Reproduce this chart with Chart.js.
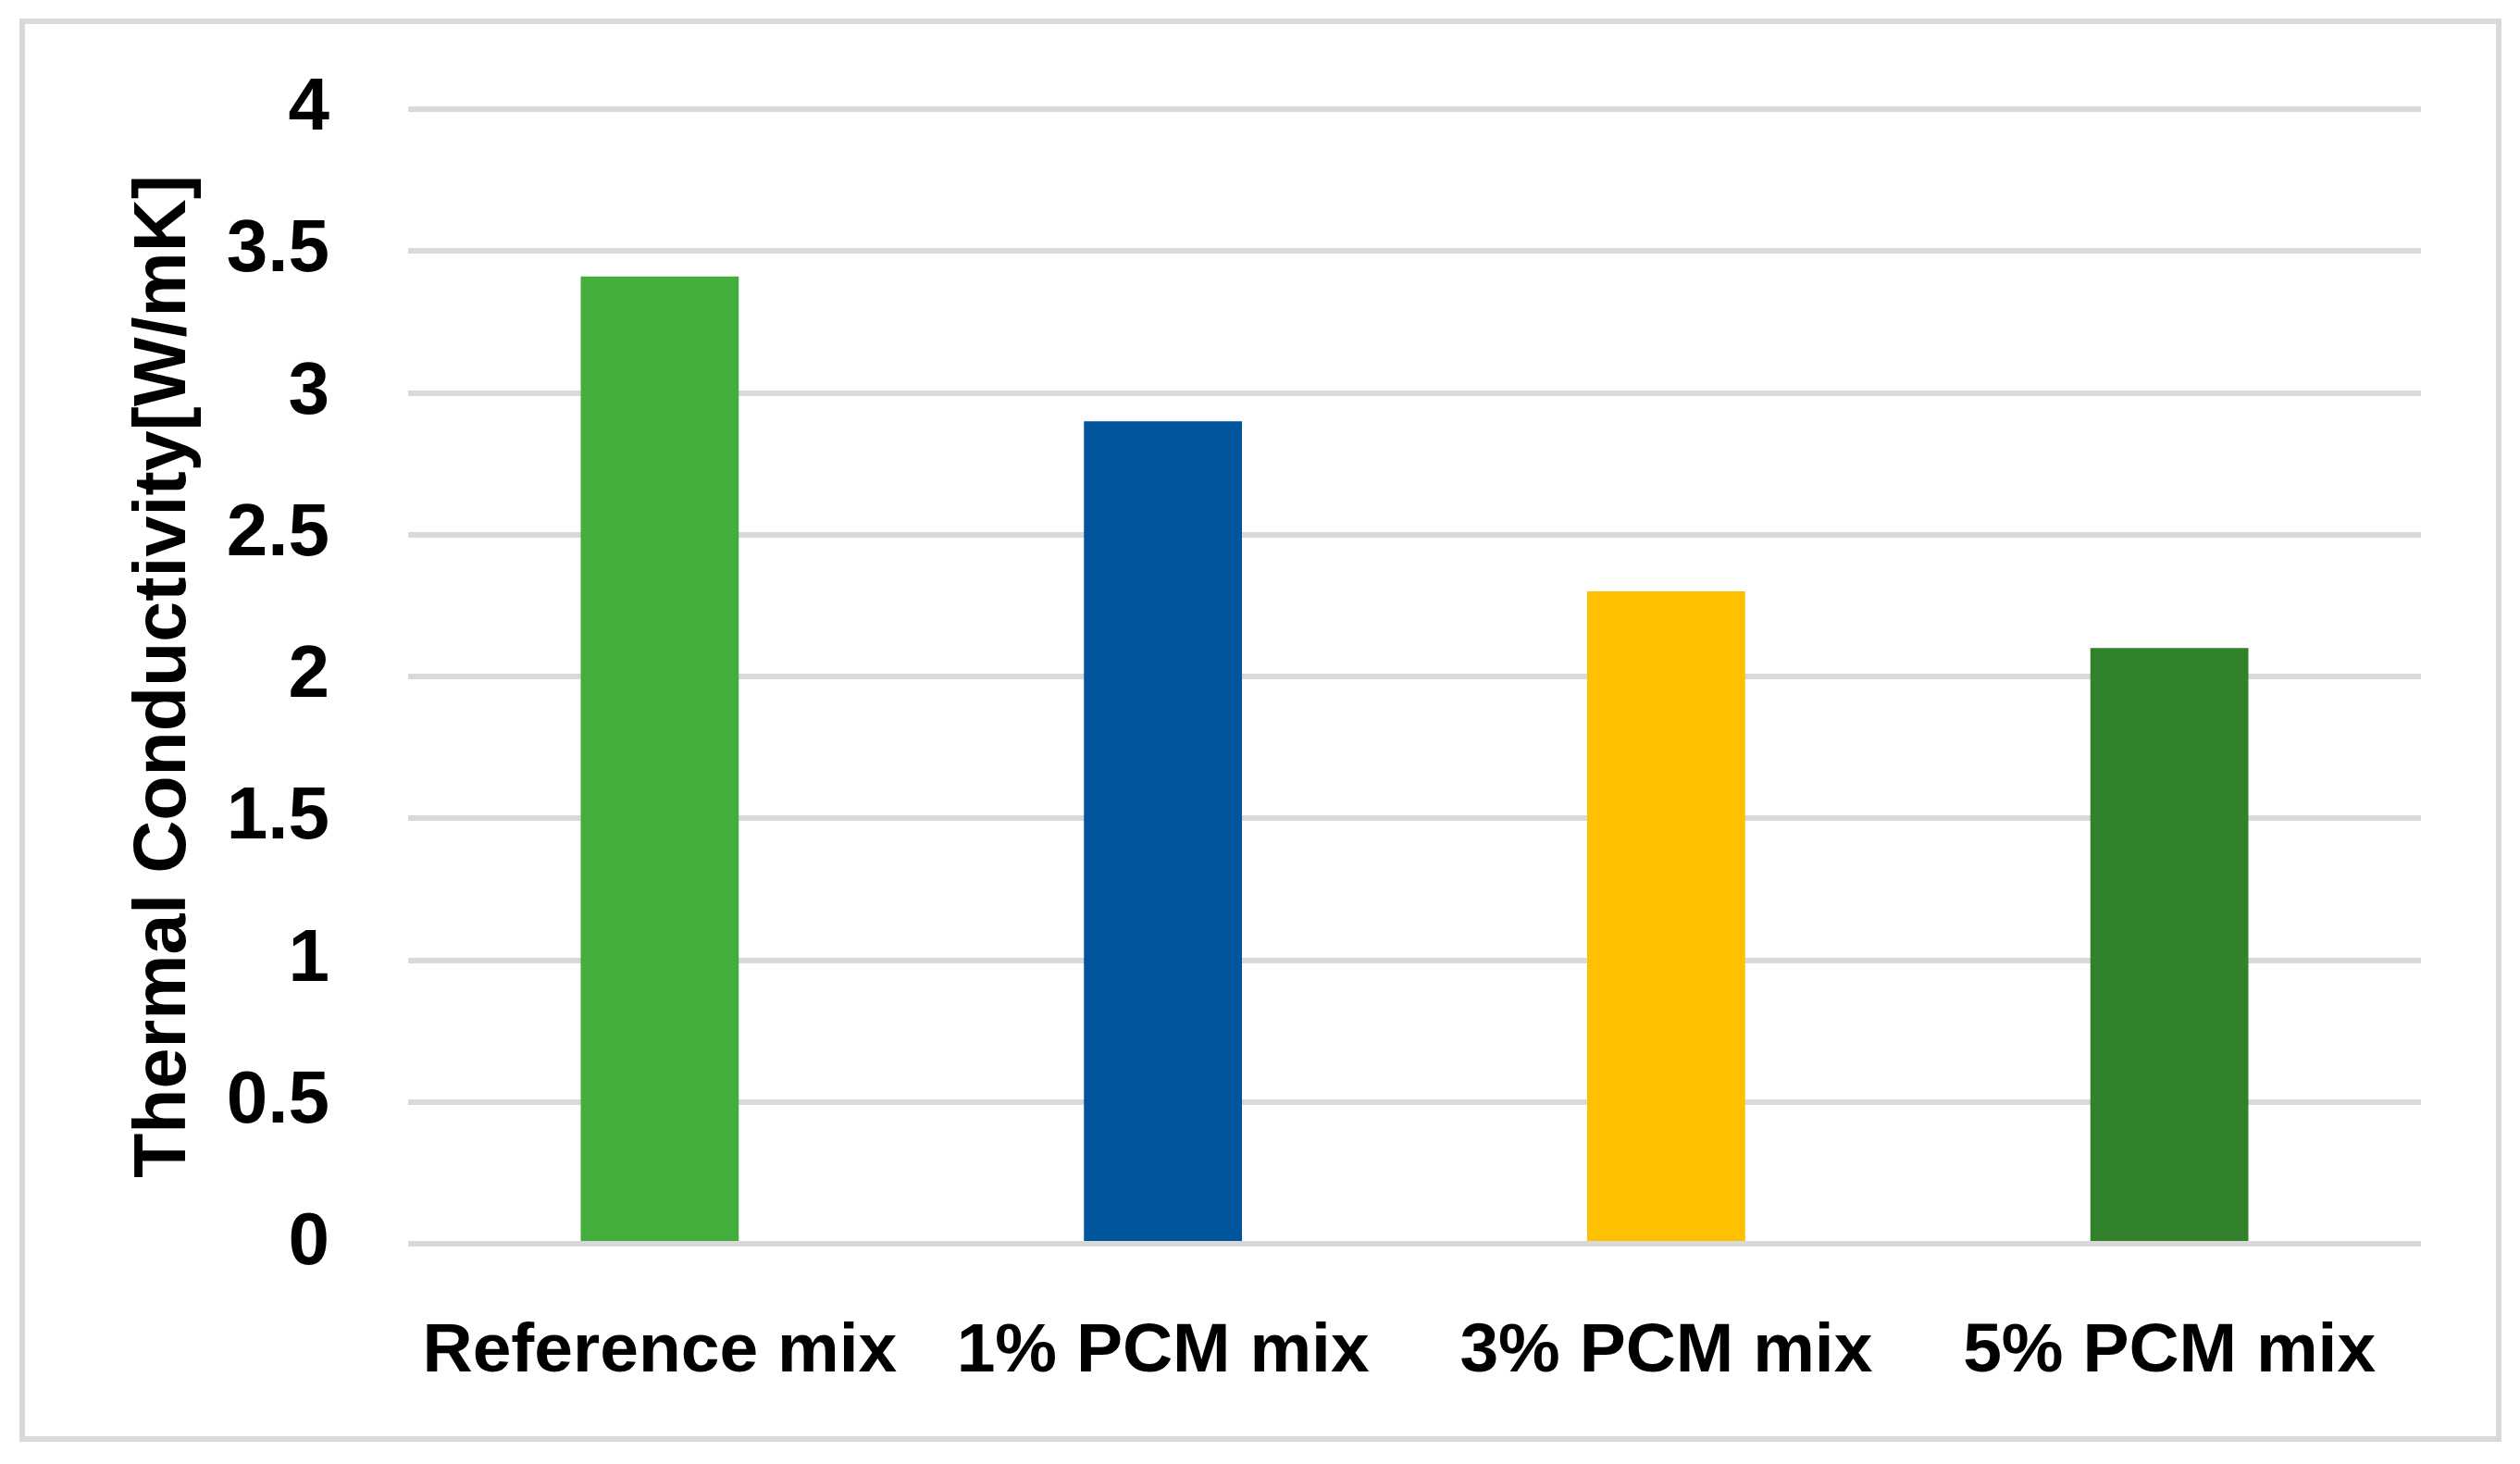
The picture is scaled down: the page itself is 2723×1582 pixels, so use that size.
<!DOCTYPE html>
<html>
<head>
<meta charset="utf-8">
<script src="https://cdn.jsdelivr.net/npm/chart.js@4"></script>
<style>
  html, body { margin: 0; padding: 0; background: #fff; }
  canvas { display: block; }
</style>
</head>
<body>
<canvas id="chart" width="2723" height="1582"></canvas>
<script>
// Data
const categories = ["Reference mix", "1% PCM mix", "3% PCM mix", "5% PCM mix"];
const conductivity = [3.41, 2.9, 2.3, 2.1];
const barColors = ["#44AE3C", "#01559C", "#FFC000", "#31822B"];
const yTicks = [0, 0.5, 1, 1.5, 2, 2.5, 3, 3.5, 4];

const FONT = "'Liberation Sans', Arial, sans-serif";

// White background + light grey frame
const framePlugin = {
  id: "frame",
  beforeDraw(chart) {
    const ctx = chart.ctx;
    ctx.save();
    ctx.fillStyle = "#ffffff";
    ctx.fillRect(0, 0, chart.width, chart.height);
    ctx.strokeStyle = "#d9d9d9";
    ctx.lineWidth = 6;
    ctx.strokeRect(24, 23, 2676, 1532);
    ctx.restore();
  },
};

new Chart(document.getElementById("chart"), {
  type: "bar",
  data: {
    labels: categories,
    datasets: [{
      data: conductivity,
      backgroundColor: barColors,
      borderWidth: 0,
      categoryPercentage: 1,
      barPercentage: 0.314,
    }],
  },
  options: {
    responsive: false,
    animation: false,
    layout: { padding: { left: 139, right: 107, top: 118, bottom: 0 } },
    plugins: { legend: { display: false }, tooltip: { enabled: false } },
    scales: {
      x: {
        grid: { display: false },
        border: { display: false },
        ticks: {
          color: "#000",
          padding: 64,
          maxRotation: 0,
          autoSkip: false,
          font: { family: FONT, size: 75, weight: "bold" },
        },
        afterFit: (scale) => {
          scale.height = 238;
          scale.paddingLeft = 0;
          scale.paddingRight = 0;
        },
      },
      y: {
        min: 0,
        max: 4,
        afterBuildTicks: (scale) => { scale.ticks = yTicks.map((v) => ({ value: v })); },
        grid: { color: "#d9d9d9", lineWidth: 6, drawTicks: false },
        border: { display: false },
        ticks: {
          color: "#000",
          padding: 85,
          font: { family: FONT, size: 80, weight: "bold" },
          callback: (v) => String(v),
        },
        title: {
          display: true,
          text: "Thermal Conductivity[W/mK]",
          color: "#000",
          padding: { top: 0, bottom: 0 },
          font: { family: FONT, size: 79, weight: "bold", lineHeight: 1 },
        },
        afterFit: (scale) => {
          scale.width = 302;
          scale.paddingTop = 0;
          scale.paddingBottom = 0;
        },
      },
    },
  },
  plugins: [framePlugin],
});
</script>
</body>
</html>
